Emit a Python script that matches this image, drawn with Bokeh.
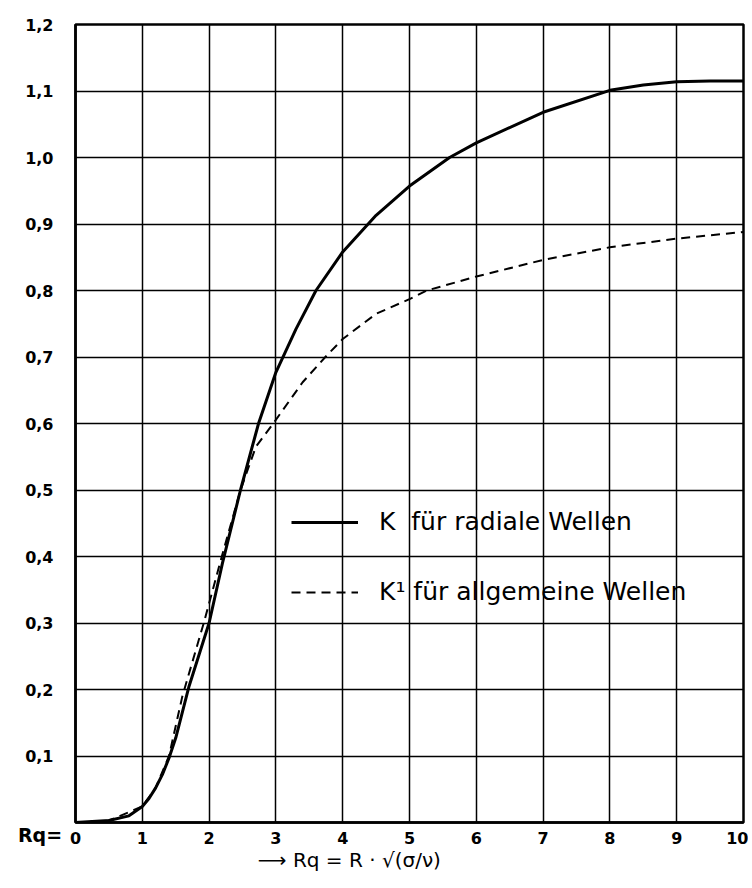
from bokeh.plotting import figure
from bokeh.models import (Range1d, FixedTicker, CustomJSTickFormatter, Legend,
                          LegendItem, Label)
from bokeh.embed import file_html
from bokeh.resources import INLINE

# --- data ---
x_k = [0, 0.5, 0.8, 1.0, 1.1, 1.2, 1.3, 1.4, 1.5, 1.7, 2.0, 2.2, 2.47, 2.74,
       3.0, 3.3, 3.6, 4.0, 4.5, 5.0, 5.6, 6.0, 7.0, 8.0, 8.5, 9.0, 9.5, 10.0]
k_radial = [0, 0.003, 0.01, 0.024, 0.036, 0.052, 0.072, 0.097, 0.127, 0.205,
            0.30, 0.39, 0.50, 0.60, 0.677, 0.742, 0.80, 0.858, 0.913, 0.957,
            1.0, 1.022, 1.068, 1.101, 1.109, 1.114, 1.115, 1.115]

x_k1 = [0, 0.5, 1.0, 1.2, 1.4, 1.6, 1.92, 2.19, 2.47, 2.7, 2.96, 3.4, 3.74,
        4.0, 4.5, 5.0, 5.26, 6.0, 7.0, 8.0, 9.0, 10.0]
k_allgemein = [0, 0.003, 0.024, 0.052, 0.10, 0.19, 0.30, 0.40, 0.50, 0.565,
               0.60, 0.662, 0.70, 0.727, 0.765, 0.787, 0.80, 0.821, 0.846,
               0.865, 0.878, 0.888]

x_ticks = [0, 1, 2, 3, 4, 5, 6, 7, 8, 9, 10]
y_ticks = [0.1, 0.2, 0.3, 0.4, 0.5, 0.6, 0.7, 0.8, 0.9, 1.0, 1.1, 1.2]

label_k = "K  für radiale Wellen"
label_k1 = "K¹ für allgemeine Wellen"
x_prefix = "Rq="
x_title = "⟶ Rq = R · √(σ/ν)"

FONT = "DejaVu Sans"

p = figure(width=748, height=886, output_backend="svg", toolbar_location=None,
           x_range=Range1d(0, 10), y_range=Range1d(0, 1.2),
           min_border_left=75, min_border_right=5, min_border_top=24,
           min_border_bottom=64)

p.background_fill_color = "white"
p.border_fill_color = "white"
p.outline_line_color = "black"
p.outline_line_width = 2.5

for ax in (p.xaxis[0], p.yaxis[0]):
    ax.major_tick_line_color = None
    ax.minor_tick_line_color = None
    ax.axis_line_color = "black"
    ax.axis_line_width = 2.5
    ax.major_label_text_font = FONT
    ax.major_label_text_font_style = "bold"
    ax.major_label_text_font_size = "16px"
    ax.major_label_text_color = "black"

p.xaxis.ticker = FixedTicker(ticks=x_ticks)
p.yaxis.ticker = FixedTicker(ticks=y_ticks)
p.yaxis.formatter = CustomJSTickFormatter(code="return tick.toFixed(1).replace('.', ',');")
p.xaxis.major_label_standoff = 3
p.yaxis.major_label_standoff = 16

p.xgrid.grid_line_color = "black"
p.ygrid.grid_line_color = "black"
p.xgrid.grid_line_width = 1.5
p.ygrid.grid_line_width = 1.5
p.xgrid.grid_line_alpha = 1.0
p.ygrid.grid_line_alpha = 1.0

r1 = p.line(x_k, k_radial, line_color="black", line_width=3)
r2 = p.line(x_k1, k_allgemein, line_color="black", line_width=2,
            line_dash="9 6")

legend = Legend(items=[LegendItem(label=label_k, renderers=[r1]),
                       LegendItem(label=label_k1, renderers=[r2])],
                location=(216, 216), orientation="vertical",
                background_fill_alpha=0, border_line_alpha=0,
                padding=0, margin=0, spacing=41,
                glyph_width=67, glyph_height=26, label_height=26,
                label_standoff=21,
                label_text_font=FONT, label_text_font_size="25px",
                label_text_color="black")
p.add_layout(legend)

# "Rq=" prefix sits in the tick-label row (positioned by data coordinates);
# its layout slot is placed above, where the top margin already has room.
p.add_layout(Label(x=-0.2, y=-0.0195, x_units="data", y_units="data",
                   text=x_prefix, text_align="right", text_baseline="middle",
                   text_font=FONT, text_font_size="19px",
                   text_font_style="bold", text_color="black"), "above")
p.add_layout(Label(x=2.73, y=-0.057, x_units="data", y_units="data",
                   text=x_title, text_align="left", text_baseline="middle",
                   text_font=FONT, text_font_size="20px",
                   text_color="black"), "below")

open("out.html", "w").write(file_html(p, INLINE))
